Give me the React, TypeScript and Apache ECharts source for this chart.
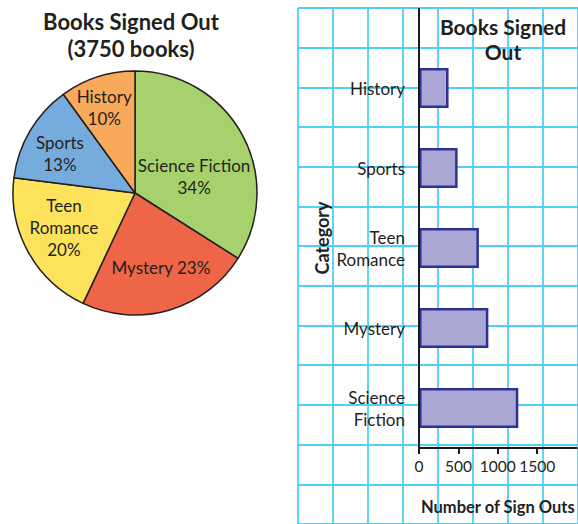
import React, { useEffect, useRef } from "react";
import * as echarts from "echarts";

// Pie data (clockwise from 12 o'clock)
const pieCategories = ["Science Fiction", "Mystery", "Teen Romance", "Sports", "History"];
const piePercents = [34, 23, 20, 13, 10];
const pieLabelNames = ["Science Fiction", "Mystery", "Teen\nRomance", "Sports", "History"];
const pieLabelSeparators = ["\n", " ", "\n", "\n", "\n"];
const pieColors = ["#a7d16c", "#ef6548", "#fde25c", "#75abdd", "#f8aa5a"];

// Bar data (top to bottom)
const barCategories = ["History", "Sports", "Teen\nRomance", "Mystery", "Science\nFiction"];
const barValues = [375, 490, 760, 880, 1260];

const pieTitle = "Books Signed Out\n(3750 books)";
const barTitle = "Books Signed\nOut";
const xAxisName = "Number of Sign Outs";
const yAxisName = "Category";

const FONT = "Lato, 'Open Sans', sans-serif";
const TEXT = "#231f20";
const GRIDBLUE = "#4fd0f6";

export default function App() {
  const ref = useRef<HTMLDivElement>(null);
  useEffect(() => {
    if (!ref.current) return;
    const chart = echarts.init(ref.current, undefined, { renderer: "svg" });
    const labelOffsets = [
      [3, 14],
      [8, 13],
      [-15, 4],
      [-20, -7],
      [-11, -25],
    ];
    chart.setOption({
      animation: false,
      backgroundColor: "#ffffff",
      textStyle: { fontFamily: FONT },
      title: [
        {
          text: pieTitle,
          left: 131,
          top: 8,
          padding: 0,
          textAlign: "center",
          textStyle: { fontFamily: FONT, fontSize: 22, fontWeight: "bold", lineHeight: 27, color: TEXT },
        },
        {
          text: barTitle,
          left: 503,
          top: 14,
          padding: 0,
          textAlign: "center",
          textStyle: { fontFamily: FONT, fontSize: 21, fontWeight: "bold", lineHeight: 25, color: TEXT },
        },
      ],
      grid: [
        { left: 419, top: 48, width: 160, height: 400, containLabel: false },
        { left: 298, top: 8, width: 321, height: 520, containLabel: false },
      ],
      xAxis: [
        {
          gridIndex: 0,
          type: "value",
          min: 0,
          max: 2000,
          interval: 500,
          z: 3,
          axisLine: { show: true, lineStyle: { color: "#1a1a1a", width: 2 } },
          axisTick: { show: true, length: 6, lineStyle: { color: "#1a1a1a", width: 2 } },
          axisLabel: {
            showMaxLabel: false,
            margin: 10,
            fontSize: 15.5,
            color: TEXT,
            fontFamily: FONT,
            formatter: (v: number) => String(v),
          },
          splitLine: { show: false },
          name: xAxisName,
          nameLocation: "middle",
          nameGap: 50,
          nameTextStyle: { fontSize: 16.5, fontWeight: "bold", color: TEXT, fontFamily: FONT },
        },
        {
          gridIndex: 1,
          type: "value",
          min: 0,
          max: 8,
          interval: 1,
          z: 0,
          axisLine: { show: false },
          axisTick: { show: false },
          axisLabel: { show: false },
          splitLine: { show: true, lineStyle: { color: GRIDBLUE, width: 1.8 } },
        },
      ],
      yAxis: [
        {
          gridIndex: 0,
          type: "category",
          inverse: true,
          data: barCategories,
          z: 3,
          axisLine: { show: true, lineStyle: { color: "#1a1a1a", width: 2 } },
          axisTick: { show: false },
          axisLabel: { margin: 14, fontSize: 17, lineHeight: 22, color: TEXT, fontFamily: FONT },
          splitLine: { show: false },
        },
        {
          gridIndex: 1,
          type: "value",
          min: 0,
          max: 13,
          interval: 1,
          z: 0,
          axisLine: { show: false },
          axisTick: { show: false },
          axisLabel: { show: false },
          splitLine: { show: true, lineStyle: { color: GRIDBLUE, width: 1.8 } },
        },
      ],
      graphic: [
        {
          type: "line",
          z: 10,
          shape: { x1: 419, y1: 8, x2: 419, y2: 48 },
          style: { stroke: "#1a1a1a", lineWidth: 2 },
        },
        {
          type: "text",
          x: 322,
          y: 238,
          rotation: Math.PI / 2,
          z: 10,
          style: {
            text: yAxisName,
            fontFamily: FONT,
            fontSize: 18,
            fontWeight: "bold",
            fill: TEXT,
            align: "center",
            verticalAlign: "middle",
          },
        },
      ],
      series: [
        {
          type: "pie",
          center: [135, 193],
          radius: 122,
          startAngle: 90,
          clockwise: true,
          avoidLabelOverlap: false,
          silent: true,
          data: pieCategories.map((c, i) => ({
            name: c,
            value: piePercents[i],
            itemStyle: { color: pieColors[i] },
          })),
          itemStyle: { borderColor: "#231f20", borderWidth: 1.5 },
          label: {
            show: true,
            position: "inside",
            fontFamily: FONT,
            fontSize: 17,
            lineHeight: 22,
            color: TEXT,
            formatter: (p: any) => `${pieLabelNames[p.dataIndex]}${pieLabelSeparators[p.dataIndex]}${p.value}%`,
          },
          labelLine: { show: false },
          labelLayout: (p: any) => ({ dx: labelOffsets[p.dataIndex][0], dy: labelOffsets[p.dataIndex][1] }),
        },
        {
          type: "bar",
          xAxisIndex: 0,
          yAxisIndex: 0,
          data: barValues,
          barWidth: 40,
          z: 2,
          itemStyle: { color: "#aba7d5", borderColor: "#2e3192", borderWidth: 2.5 },
        },
      ],
    });
    return () => chart.dispose();
  }, []);
  return (
    <div
      ref={ref}
      style={{ position: "fixed", left: 0, top: 0, width: 578, height: 524, background: "#fff" }}
    />
  );
}
